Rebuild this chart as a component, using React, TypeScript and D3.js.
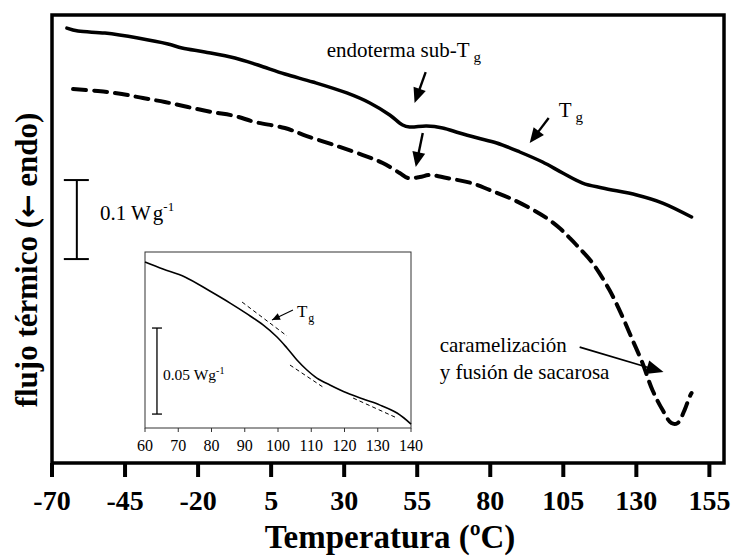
import React from "react";
import * as d3 from "d3";

// ---- data ----
const mainTicks = [-70, -45, -20, 5, 30, 55, 80, 105, 130, 155];
const insetTicks = [60, 70, 80, 90, 100, 110, 120, 130, 140];

// solid curve (temperature ºC, heat flow W/g, arbitrary offset)
const solidT = [-64.9, -61.1, -51.9, -40.6, -30.3, -25.5, -17.7, -7.4, 0.5, 9.7, 19.3, 30.9, 38.8, 45.6, 50.0, 52.4, 58.2, 63.7, 69.5, 75.7, 82.2, 90.1, 97.9, 104.8, 111.6, 118.4, 130.1, 139.0, 148.9];
const solidV = [-0.0165, -0.0203, -0.0228, -0.0291, -0.0367, -0.0418, -0.0468, -0.0544, -0.0633, -0.0747, -0.0848, -0.0987, -0.1114, -0.1266, -0.1392, -0.1418, -0.1405, -0.1430, -0.1494, -0.1557, -0.1620, -0.1734, -0.1861, -0.2000, -0.2127, -0.2190, -0.2278, -0.2380, -0.2557];

// dashed curve
const dashedT = [-62.8, -54.3, -46.1, -38.9, -31.4, -23.5, -15.3, -7.4, -0.6, 9.7, 17.2, 27.5, 36.4, 43.2, 49.0, 51.8, 55.9, 59.3, 65.1, 73.6, 79.8, 86.6, 93.5, 99.3, 103.7, 107.2, 109.5, 115.0, 120.8, 125.3, 128.7, 132.1, 135.5, 139.0, 142.0, 144.1, 146.5, 148.2, 148.9];
const dashedV = [-0.0937, -0.0962, -0.1000, -0.1051, -0.1101, -0.1165, -0.1228, -0.1278, -0.1354, -0.1430, -0.1532, -0.1658, -0.1772, -0.1873, -0.2000, -0.2063, -0.2051, -0.2025, -0.2063, -0.2127, -0.2215, -0.2316, -0.2443, -0.2570, -0.2696, -0.2823, -0.2911, -0.3139, -0.3481, -0.3823, -0.4114, -0.4405, -0.4747, -0.5000, -0.5165, -0.5165, -0.5000, -0.4835, -0.4785];

// inset curve
const insetT = [60, 65.4, 72.0, 79.5, 85.6, 90.7, 95.5, 99.7, 102.7, 105.7, 108.7, 111.7, 115.6, 120.8, 125.6, 130.7, 135.8, 140];
const insetV = [-0.0058, -0.0099, -0.0145, -0.0227, -0.0297, -0.0360, -0.0424, -0.0494, -0.0558, -0.0628, -0.0686, -0.0733, -0.0773, -0.0820, -0.0855, -0.0890, -0.0936, -0.1000];

// inset tangent lines [T1, V1, T2, V2]
const tangent1 = [89.2, -0.0291, 102.7, -0.0488];
const tangent2 = [103.6, -0.0657, 113.5, -0.0785];
const tangent3 = [122.6, -0.0849, 135.8, -0.0965];

// scale bars [T, Vtop, length]
const mainBar = [-61.5, -0.2089, 0.1];
const insetBar = [63.6, -0.0442, 0.05];

// arrows [T0, V0, T1(tip), V1]
const arrowSubSolid = [57.9, -0.0722, 54.1, -0.1114];
const arrowSubDashed = [56.9, -0.1494, 54.5, -0.1924];
const arrowTg = [100.0, -0.1304, 93.5, -0.1620];
const arrowCaramel = [110.6, -0.4203, 139.3, -0.4519];
const arrowInsetTg = [104.5, -0.0337, 98.2, -0.0395];

const SERIF = "'Liberation Serif', 'Times New Roman', serif";

function arrowHead(x0: number, y0: number, x1: number, y1: number, len: number, half: number) {
  const a = Math.atan2(y1 - y0, x1 - x0);
  const bx = x1 - len * Math.cos(a);
  const by = y1 - len * Math.sin(a);
  const px = -Math.sin(a) * half;
  const py = Math.cos(a) * half;
  return `M${x1},${y1}L${bx + px},${by + py}L${bx - px},${by - py}Z`;
}

export default function App() {
  const W = 734, H = 557;
  const x = d3.scaleLinear().domain([-70, 160]).range([52, 724]);
  const y = d3.scaleLinear().domain([-0.567, 0]).range([463, 15]);
  const xi = d3.scaleLinear().domain([60, 140]).range([145, 411]);
  const yi = d3.scaleLinear().domain([-0.1023, 0]).range([428, 252]);

  const line = d3.line<[number, number]>().x(d => x(d[0])).y(d => y(d[1])).curve(d3.curveCatmullRom.alpha(0.5));
  const lineI = d3.line<[number, number]>().x(d => xi(d[0])).y(d => yi(d[1])).curve(d3.curveCatmullRom.alpha(0.5));

  const solid = solidT.map((t, i) => [t, solidV[i]] as [number, number]);
  const dashed = dashedT.map((t, i) => [t, dashedV[i]] as [number, number]);
  const inset = insetT.map((t, i) => [t, insetV[i]] as [number, number]);

  const mainArrow = (a: number[], sw: number, len: number, half: number) => {
    const x0 = x(a[0]), y0 = y(a[1]), x1 = x(a[2]), y1 = y(a[3]);
    const ang = Math.atan2(y1 - y0, x1 - x0);
    return (
      <g>
        <line x1={x0} y1={y0} x2={x1 - (len - 1) * Math.cos(ang)} y2={y1 - (len - 1) * Math.sin(ang)} stroke="#000" strokeWidth={sw} />
        <path d={arrowHead(x0, y0, x1, y1, len, half)} fill="#000" />
      </g>
    );
  };

  const tanLine = (t: number[], k: number) => (
    <line key={k} x1={xi(t[0])} y1={yi(t[1])} x2={xi(t[2])} y2={yi(t[3])} stroke="#000" strokeWidth={1} strokeDasharray="4 3" />
  );

  const ia = arrowInsetTg;
  const iax0 = xi(ia[0]), iay0 = yi(ia[1]), iax1 = xi(ia[2]), iay1 = yi(ia[3]);

  return (
    <svg width={W} height={H} style={{ position: "absolute", left: 0, top: 0, background: "#fff" }} fontFamily={SERIF}>
      <rect x={0} y={0} width={W} height={H} fill="#fff" />
      {/* main curves */}
      <path d={line(solid) || ""} fill="none" stroke="#000" strokeWidth={3.5} strokeLinecap="round" strokeLinejoin="round" />
      <path d={line(dashed) || ""} fill="none" stroke="#000" strokeWidth={4} strokeDasharray="13 8" strokeLinecap="round" />

      {/* frame */}
      <rect x={x(-70)} y={y(0)} width={x(160) - x(-70)} height={y(-0.567) - y(0)} fill="none" stroke="#000" strokeWidth={3.5} />

      {/* x ticks */}
      {mainTicks.map(t => (
        <g key={t}>
          <line x1={x(t)} x2={x(t)} y1={y(-0.567)} y2={y(-0.567) + 14} stroke="#000" strokeWidth={4} />
          <text x={x(t)} y={510} textAnchor="middle" fontSize={28} fontWeight="bold">{t}</text>
        </g>
      ))}
      <text x={390} y={548} textAnchor="middle" fontSize={33} fontWeight="bold">Temperatura (ºC)</text>
      <text transform={`translate(37,260) rotate(-90)`} textAnchor="middle" fontSize={31} fontWeight="bold">flujo térmico (<tspan fontFamily="'DejaVu Sans', sans-serif" fontSize={28}>←</tspan> endo)</text>

      {/* main scale bar */}
      <g stroke="#000" strokeWidth={2}>
        <line x1={x(mainBar[0])} x2={x(mainBar[0])} y1={y(mainBar[1])} y2={y(mainBar[1] - mainBar[2])} />
        <line x1={x(mainBar[0]) - 13} x2={x(mainBar[0]) + 12} y1={y(mainBar[1])} y2={y(mainBar[1])} />
        <line x1={x(mainBar[0]) - 13} x2={x(mainBar[0]) + 12} y1={y(mainBar[1] - mainBar[2])} y2={y(mainBar[1] - mainBar[2])} />
      </g>
      <text x={x(-53.6)} y={y(-0.2595)} fontSize={21}>0.1 W<tspan dx={2}>g</tspan><tspan dy={-9} fontSize={13}>-1</tspan></text>

      {/* annotations */}
      <text x={x(24.0)} y={y(-0.0532)} fontSize={21}>endoterma sub-T<tspan dx={4} dy={5} fontSize={15}>g</tspan></text>
      {mainArrow(arrowSubSolid, 2.4, 15, 6.5)}
      {mainArrow(arrowSubDashed, 2.4, 15, 6.5)}
      <text x={x(103.4)} y={y(-0.129)} fontSize={21}>T<tspan dx={4} dy={5} fontSize={15}>g</tspan></text>
      {mainArrow(arrowTg, 2.4, 15, 6.5)}
      <text x={x(62.7)} y={y(-0.4266)} fontSize={21}>caramelización</text>
      <text x={x(62.7)} y={y(-0.4608)} fontSize={21}>y fusión de sacarosa</text>
      {mainArrow(arrowCaramel, 1.8, 17, 7)}

      {/* inset */}
      <rect x={xi(60)} y={yi(0)} width={xi(140) - xi(60)} height={yi(-0.1023) - yi(0)} fill="#fff" stroke="#333" strokeWidth={1} />
      <path d={lineI(inset) || ""} fill="none" stroke="#000" strokeWidth={1.6} />
      {[tangent1, tangent2, tangent3].map((t, k) => tanLine(t, k))}
      {insetTicks.map(t => (
        <g key={t}>
          <line x1={xi(t)} x2={xi(t)} y1={yi(-0.1023)} y2={yi(-0.1023) + 4} stroke="#333" strokeWidth={1} />
          <text x={xi(t)} y={451} textAnchor="middle" fontSize={16}>{t}</text>
        </g>
      ))}
      <g stroke="#000" strokeWidth={1.3}>
        <line x1={xi(insetBar[0])} x2={xi(insetBar[0])} y1={yi(insetBar[1])} y2={yi(insetBar[1] - insetBar[2])} />
        <line x1={xi(insetBar[0]) - 5} x2={xi(insetBar[0]) + 5} y1={yi(insetBar[1])} y2={yi(insetBar[1])} />
        <line x1={xi(insetBar[0]) - 5} x2={xi(insetBar[0]) + 5} y1={yi(insetBar[1] - insetBar[2])} y2={yi(insetBar[1] - insetBar[2])} />
      </g>
      <text x={xi(65.4)} y={yi(-0.0744)} fontSize={15.5}>0.05 Wg<tspan dy={-6} fontSize={10}>-1</tspan></text>
      <line x1={iax0} y1={iay0} x2={iax1} y2={iay1} stroke="#000" strokeWidth={1.1} />
      <path d={arrowHead(iax0, iay0, iax1, iay1, 8, 3.5)} fill="#000" />
      <text x={xi(105.7)} y={yi(-0.0378)} fontSize={17}>T<tspan dx={1} dy={5} fontSize={12}>g</tspan></text>
    </svg>
  );
}
